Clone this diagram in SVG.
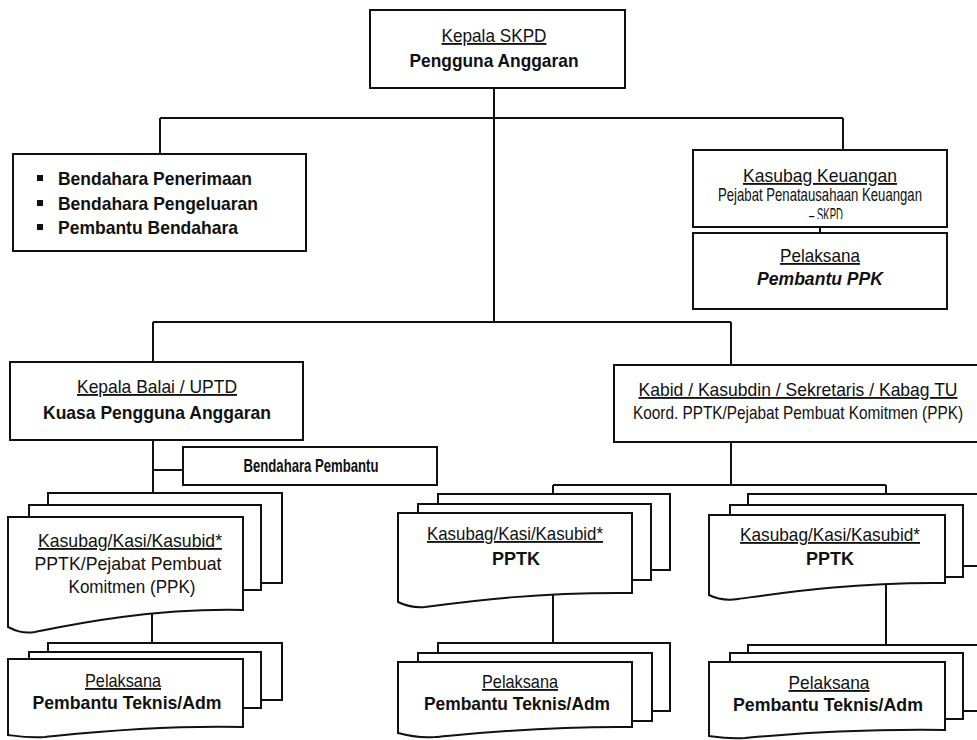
<svg xmlns="http://www.w3.org/2000/svg" width="977" height="740" viewBox="0 0 977 740">
<defs>
<style>
.bg{fill:#fff}
.box{fill:#fff;stroke:#111;stroke-width:2}
.ln{fill:none;stroke:#111;stroke-width:2}
.t{font-family:"Liberation Sans Narrow","Liberation Sans",Arial,sans-serif;fill:#111;text-anchor:middle;font-size:18.5px}
.s{text-anchor:start}
.u{text-decoration:underline}
.b{font-weight:bold}
.i{font-style:italic}
</style>
<clipPath id="kclip"><rect x="693" y="150" width="254" height="69"/></clipPath>
</defs>
<rect class="bg" x="0" y="0" width="977" height="740"/>

<g id="connectors">
<path class="ln" d="M494 88V322"/>
<path class="ln" d="M160 118H843M160 118V154M843 118V150M820 227V233"/>
<path class="ln" d="M153 322H731M153 322V362M731 322V365"/>
<path class="ln" d="M153 440V493M153 470H183"/>
<path class="ln" d="M152 600V643"/>
<path class="ln" d="M731 442V485M553 485H886M553 485V494M886 485V494"/>
<path class="ln" d="M553 580V643M886 575V645"/>
</g>

<g id="kepala-skpd">
<rect class="box" x="370" y="10" width="255" height="78"/>
<text class="t u" x="494" y="42" textLength="105" lengthAdjust="spacingAndGlyphs">Kepala SKPD</text>
<text class="t b" x="494" y="67" textLength="169" lengthAdjust="spacingAndGlyphs">Pengguna Anggaran</text>
</g>

<g id="bendahara">
<rect class="box" x="13" y="154" width="293" height="97"/>
<rect x="37" y="175" width="6" height="6" fill="#111"/>
<rect x="37" y="200" width="6" height="6" fill="#111"/>
<rect x="37" y="224" width="6" height="6" fill="#111"/>
<text class="t b s" x="58" y="185" textLength="194" lengthAdjust="spacingAndGlyphs">Bendahara Penerimaan</text>
<text class="t b s" x="58" y="210" textLength="200" lengthAdjust="spacingAndGlyphs">Bendahara Pengeluaran</text>
<text class="t b s" x="58" y="234" textLength="180" lengthAdjust="spacingAndGlyphs">Pembantu Bendahara</text>
</g>

<g id="kasubag-keuangan">
<rect class="box" x="693" y="150" width="254" height="77"/>
<text class="t u" x="820" y="182" font-size="18" textLength="154" lengthAdjust="spacingAndGlyphs">Kasubag Keuangan</text>
<text class="t" x="820" y="201" font-size="13" textLength="204" lengthAdjust="spacingAndGlyphs">Pejabat Penatausahaan Keuangan</text>
<text class="t" x="826" y="221" font-size="13" textLength="34" lengthAdjust="spacingAndGlyphs" clip-path="url(#kclip)">– SKPD</text>
</g>

<g id="pelaksana-ppk">
<rect class="box" x="693" y="233" width="254" height="76"/>
<text class="t u" x="820" y="262" textLength="80" lengthAdjust="spacingAndGlyphs">Pelaksana</text>
<text class="t b i" x="820" y="285" textLength="126" lengthAdjust="spacingAndGlyphs">Pembantu PPK</text>
</g>

<g id="kepala-balai">
<rect class="box" x="10" y="362" width="293" height="78"/>
<text class="t u" x="157" y="393" textLength="160" lengthAdjust="spacingAndGlyphs">Kepala Balai / UPTD</text>
<text class="t b" x="157" y="419" textLength="228" lengthAdjust="spacingAndGlyphs">Kuasa Pengguna Anggaran</text>
</g>

<g id="bendahara-pembantu">
<rect class="box" x="183" y="447" width="254" height="38"/>
<text class="t b" x="311" y="472" font-size="13.5" textLength="135" lengthAdjust="spacingAndGlyphs">Bendahara Pembantu</text>
</g>

<g id="kabid">
<rect class="box" x="614" y="365" width="375" height="77"/>
<text class="t u" x="798" y="396" textLength="319" lengthAdjust="spacingAndGlyphs">Kabid / Kasubdin / Sekretaris / Kabag TU</text>
<text class="t" x="798" y="419" font-size="18" textLength="330" lengthAdjust="spacingAndGlyphs">Koord. PPTK/Pejabat Pembuat Komitmen (PPK)</text>
</g>

<g id="pptk-ppk-left">
<rect class="box" x="48" y="493" width="234" height="90"/>
<rect class="box" x="29" y="505" width="232" height="85"/>
<path class="box" d="M8 517H243V610C150 608 70 625 35 632C22 634 14 630 8 627Z"/>
<text class="t u" x="130" y="547" textLength="184" lengthAdjust="spacingAndGlyphs">Kasubag/Kasi/Kasubid*</text>
<text class="t" x="128" y="570" textLength="187" lengthAdjust="spacingAndGlyphs">PPTK/Pejabat Pembuat</text>
<text class="t" x="132" y="593" textLength="127" lengthAdjust="spacingAndGlyphs">Komitmen (PPK)</text>
</g>

<g id="pptk-middle">
<rect class="box" x="438" y="494" width="232" height="76"/>
<rect class="box" x="418" y="504" width="233" height="76"/>
<path class="box" d="M398 513H632V593C540 592 470 601 425 607C412 608 404 605 398 602Z"/>
<text class="t u" x="515" y="540" textLength="176" lengthAdjust="spacingAndGlyphs">Kasubag/Kasi/Kasubid*</text>
<text class="t b" x="516" y="565" textLength="48" lengthAdjust="spacingAndGlyphs">PPTK</text>
</g>

<g id="pptk-right">
<rect class="box" x="748" y="494" width="239" height="72"/>
<rect class="box" x="730" y="505" width="233" height="72"/>
<path class="box" d="M709 515H945V583C850 582 775 594 738 599C725 601 715 598 709 595Z"/>
<text class="t u" x="830" y="541" textLength="180" lengthAdjust="spacingAndGlyphs">Kasubag/Kasi/Kasubid*</text>
<text class="t b" x="830" y="565" textLength="48" lengthAdjust="spacingAndGlyphs">PPTK</text>
</g>

<g id="pelaksana-left">
<rect class="box" x="48" y="643" width="234" height="57"/>
<rect class="box" x="29" y="652" width="232" height="56"/>
<path class="box" d="M8 659H243V727C150 725 75 734 45 737C28 738 16 736 8 735Z"/>
<text class="t u" x="123" y="687" textLength="76" lengthAdjust="spacingAndGlyphs">Pelaksana</text>
<text class="t b" x="127" y="709" textLength="189" lengthAdjust="spacingAndGlyphs">Pembantu Teknis/Adm</text>
</g>

<g id="pelaksana-middle">
<rect class="box" x="438" y="643" width="232" height="68"/>
<rect class="box" x="418" y="653" width="234" height="68"/>
<path class="box" d="M398 662H632V727C540 726 468 734 435 737C418 738 405 735 398 733Z"/>
<text class="t u" x="520" y="688" textLength="76" lengthAdjust="spacingAndGlyphs">Pelaksana</text>
<text class="t b" x="517" y="710" textLength="186" lengthAdjust="spacingAndGlyphs">Pembantu Teknis/Adm</text>
</g>

<g id="pelaksana-right">
<rect class="box" x="748" y="645" width="239" height="66"/>
<rect class="box" x="730" y="653" width="233" height="66"/>
<path class="box" d="M709 662H945V730C850 729 775 735 745 738C728 739 716 737 709 736Z"/>
<text class="t u" x="829" y="689" textLength="81" lengthAdjust="spacingAndGlyphs">Pelaksana</text>
<text class="t b" x="828" y="711" textLength="190" lengthAdjust="spacingAndGlyphs">Pembantu Teknis/Adm</text>
</g>
</svg>
